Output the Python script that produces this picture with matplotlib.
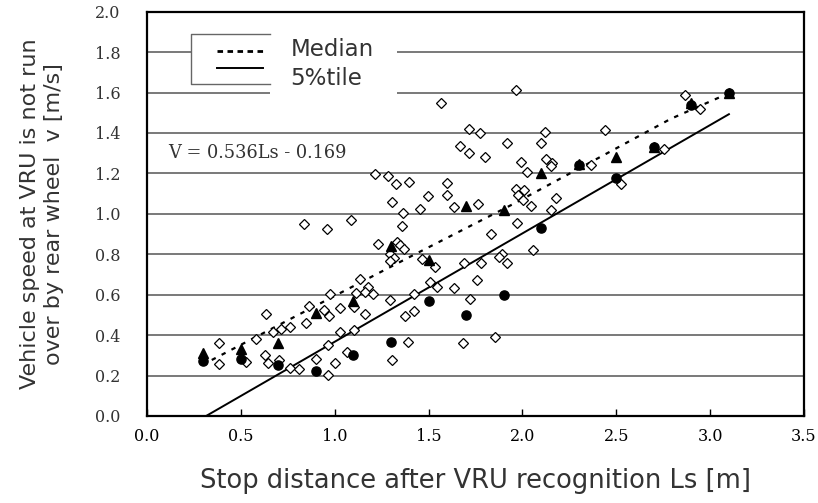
import matplotlib
matplotlib.use('Agg')
import matplotlib.pyplot as plt
from matplotlib.patches import Rectangle

# measured runs (open diamonds)
run_ls = [0.386, 0.381, 0.530, 0.582, 0.635, 0.626, 0.647, 0.701, 0.671, 0.713,
          0.763, 0.763, 0.811, 0.848, 0.864, 0.902, 0.941, 0.968, 0.966, 0.964,
          1.003, 1.026, 1.030, 1.066, 1.101, 1.103, 1.163, 1.297, 1.304, 1.377,
          1.421, 1.391, 1.683, 1.720, 0.977, 1.137, 1.114, 1.176, 1.163, 1.204,
          1.425, 1.510, 1.546, 1.638, 1.758, 1.466, 1.534, 1.690, 1.781, 1.893,
          1.875, 1.919, 1.852, 1.834, 1.969, 2.058, 1.229, 1.332, 1.347, 1.368,
          1.297, 1.314, 1.293, 0.834, 0.959, 1.087, 1.359, 1.364, 1.306, 1.453,
          1.496, 1.600, 1.596, 1.637, 1.761, 1.217, 1.282, 1.327, 1.396, 1.567,
          1.715, 1.772, 1.916, 1.669, 1.713, 1.800, 1.993, 1.964, 2.120, 2.439,
          2.097, 2.124, 2.160, 2.154, 2.026, 2.364, 2.526, 1.966, 2.008, 1.979,
          2.005, 2.177, 2.047, 2.150, 2.866, 2.947, 2.752]
run_v = [0.362, 0.257, 0.266, 0.380, 0.505, 0.301, 0.260, 0.277, 0.416, 0.428,
         0.438, 0.235, 0.232, 0.461, 0.545, 0.280, 0.523, 0.494, 0.353, 0.202,
         0.263, 0.416, 0.532, 0.318, 0.427, 0.540, 0.505, 0.575, 0.277, 0.494,
         0.521, 0.367, 0.362, 0.577, 0.603, 0.680, 0.606, 0.639, 0.614, 0.602,
         0.602, 0.663, 0.637, 0.634, 0.673, 0.775, 0.736, 0.756, 0.759, 0.803,
         0.787, 0.759, 0.392, 0.902, 0.955, 0.820, 0.849, 0.861, 0.844, 0.828,
         0.803, 0.784, 0.767, 0.948, 0.923, 0.968, 0.938, 1.006, 1.060, 1.025,
         1.088, 1.093, 1.152, 1.035, 1.048, 1.197, 1.185, 1.149, 1.157, 1.547,
         1.418, 1.399, 1.350, 1.336, 1.302, 1.281, 1.258, 1.613, 1.404, 1.416,
         1.350, 1.272, 1.251, 1.235, 1.207, 1.240, 1.149, 1.124, 1.116, 1.093,
         1.070, 1.080, 1.037, 1.021, 1.590, 1.519, 1.322]

# per-bin statistics
bin_ls = [0.3, 0.5, 0.7, 0.9, 1.1, 1.3, 1.5, 1.7, 1.9, 2.1, 2.3, 2.5, 2.7, 2.9, 3.1]
median_v = [0.31, 0.33, 0.36, 0.51, 0.57, 0.84, 0.77, 1.04, 1.02, 1.20, 1.245, 1.28, 1.33, 1.55, 1.60]
pct5_v = [0.27, 0.28, 0.25, 0.225, 0.30, 0.365, 0.57, 0.50, 0.60, 0.93, 1.24, 1.175, 1.33, 1.54, 1.60]

# trend lines
median_line_x = [0.345, 0.96, 1.40, 1.96, 2.38, 2.79, 3.10]
median_line_y = [0.277, 0.575, 0.787, 1.053, 1.264, 1.47, 1.597]
pct5_line_x = [0.315, 3.10]
pct5_line_y = [0.0, 1.493]

equation = 'V = 0.536Ls - 0.169'
xticks = [0.0, 0.5, 1.0, 1.5, 2.0, 2.5, 3.0, 3.5]
yticks = [0.0, 0.2, 0.4, 0.6, 0.8, 1.0, 1.2, 1.4, 1.6, 1.8, 2.0]

serif = 'DejaVu Serif'
sans = 'DejaVu Sans'
txt_grey = '#333333'

fig = plt.figure(figsize=(8.18, 5.03), dpi=100)
ax = fig.add_axes([0.1797, 0.173, 0.8032, 0.8037])

for t in yticks[1:-1]:
    ax.axhline(t, color='#555555', lw=1.1, zorder=1)

ax.plot(median_line_x, median_line_y, color='black', lw=1.6,
        linestyle=(0, (2.0, 3.0)), zorder=2)
ax.plot(pct5_line_x, pct5_line_y, color='black', lw=1.4, zorder=2)

ax.plot(run_ls, run_v, linestyle='none', marker='D', ms=4.8,
        mfc='white', mec='black', mew=0.9, zorder=3)
ax.plot(bin_ls, pct5_v, linestyle='none', marker='o', ms=6.6,
        color='black', zorder=4)
ax.plot(bin_ls, median_v, linestyle='none', marker='^', ms=6.6,
        color='black', zorder=4)

# legend, drawn the way the original sheet shows it
ax.add_patch(Rectangle((0.235, 1.644), 0.656 - 0.235, 1.891 - 1.644,
                       facecolor='white', edgecolor='none', zorder=5))
ax.add_patch(Rectangle((0.656, 1.575), 1.334 - 0.656, 1.91 - 1.575,
                       facecolor='white', edgecolor='none', zorder=5))
ax.plot([0.656, 0.235, 0.235, 0.656], [1.891, 1.891, 1.644, 1.644],
        color='#666666', lw=1.0, zorder=6)
ax.plot([0.374, 0.619], [1.807, 1.807], color='black', lw=2.0,
        linestyle=(0, (2.0, 1.6)), zorder=6)
ax.plot([0.374, 0.619], [1.72, 1.72], color='black', lw=1.4, zorder=6)
ax.text(0.765, 1.815, 'Median', family=sans, fontsize=16.5, va='center',
        color=txt_grey, zorder=7)
ax.text(0.765, 1.672, '5%tile', family=sans, fontsize=16.5, va='center',
        color=txt_grey, zorder=7)

ax.text(0.112, 1.30, equation, family=serif, fontsize=12.8, va='center', color=txt_grey)

ax.set_xlim(0, 3.5)
ax.set_ylim(0, 2.0)
ax.set_xticks(xticks)
ax.set_yticks(yticks)
ax.set_xticklabels([f'{v:.1f}' for v in xticks], family=serif, fontsize=11.5, color=txt_grey)
ax.set_yticklabels([f'{v:.1f}' for v in yticks], family=serif, fontsize=11.5, color=txt_grey)
ax.tick_params(axis='x', direction='in', length=5, width=1.0, pad=9, colors='black')
ax.tick_params(axis='y', direction='in', length=0, pad=19)

for s in ax.spines.values():
    s.set_linewidth(1.6)
    s.set_color('black')

ax.set_xlabel('Stop distance after VRU recognition Ls [m]', family=sans,
              fontsize=18.5, labelpad=16, color=txt_grey)
ax.set_ylabel('Vehicle speed at VRU is not run\nover by rear wheel  v [m/s]',
              family=sans, fontsize=16, labelpad=22, linespacing=1.3, color=txt_grey)

fig.savefig('out.png', dpi=100)
